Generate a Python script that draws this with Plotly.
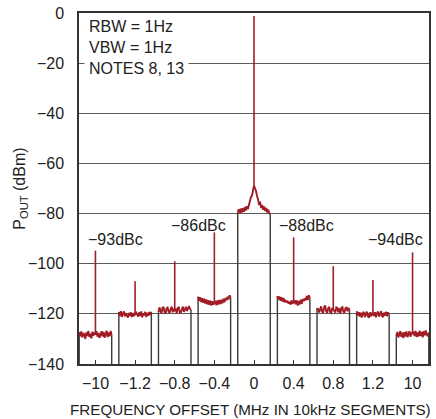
import numpy as np
import plotly.graph_objects as go

# ---- data ----
tick_labels = ["\u221210", "\u22121.2", "\u22120.8", "\u22120.4", "0", "0.4", "0.8", "1.2", "10"]

noise_m10 = [-127.2,-128.9,-127.0,-129.4,-127.6,-128.3,-130.0,-127.4,-128.8,-126.8,-129.2,-127.9,-129.8,-127.1,-128.7,-127.5,-128.2,-126.9,-129.1,-127.6,-129.6,-128.0,-126.9,-129.0,-127.2,-129.5,-127.8,-126.7,-129.3,-127.4,-128.9,-126.8,-128.6]
noise_m1p2 = [-119.3,-120.9,-118.9,-121.2,-119.8,-119.0,-121.0,-119.7,-120.6,-121.5,-119.6,-120.8,-119.4,-121.3,-119.7,-120.9,-120.1,-119.5,-120.2,-121.1,-119.4,-120.8,-119.0,-121.4,-119.9,-120.6,-119.2,-121.3,-119.6,-120.7,-119.3,-120.4,-119.2]
noise_m0p8 = [-119.3,-117.4,-118.9,-119.8,-117.6,-117.2,-119.3,-119.9,-117.8,-117.5,-119.2,-119.6,-118.0,-117.1,-119.4,-118.0,-118.6,-117.9,-119.8,-117.6,-117.4,-119.4,-119.5,-117.8,-117.1,-119.2,-117.7,-117.2,-118.9,-117.4,-116.9,-118.0,-118.4]
noise_m0p4 = [-113.2,-114.9,-113.4,-115.3,-113.8,-115.6,-114.0,-115.9,-114.3,-116.2,-114.6,-116.4,-114.8,-116.7,-115.0,-116.3,-115.6,-114.9,-116.6,-114.7,-116.3,-114.5,-116.1,-114.4,-115.8,-114.0,-115.4,-113.7,-114.6,-113.2,-114.2,-112.6,-113.6]
noise_0 = [-79.2,-78.3,-80.1,-78.0,-79.6,-77.9,-79.3,-77.4,-78.8,-77.1,-78.2,-76.5,-76.0,-73.4,-72.9,-70.4,-68.8,-69.9,-71.0,-73.1,-74.3,-76.6,-75.2,-77.8,-76.6,-78.5,-77.2,-79.0,-77.8,-79.6,-78.4,-79.9,-80.3]
noise_p0p4 = [-112.9,-114.3,-113.1,-114.8,-113.4,-115.1,-113.7,-115.4,-114.7,-115.2,-115.0,-115.9,-115.2,-116.3,-114.6,-116.0,-115.3,-114.7,-116.2,-114.6,-116.7,-114.9,-116.3,-114.4,-116.0,-114.1,-114.9,-113.8,-114.6,-112.9,-114.5,-112.6,-113.8]
noise_p0p8 = [-117.7,-118.2,-119.4,-117.6,-117.0,-119.1,-119.6,-117.5,-116.6,-118.9,-119.5,-117.9,-117.2,-119.4,-119.7,-117.6,-118.4,-119.2,-119.5,-117.4,-117.6,-119.4,-117.8,-119.9,-117.6,-117.3,-119.1,-119.4,-117.7,-117.5,-119.0,-117.6,-118.9]
noise_p1p2 = [-119.0,-120.7,-119.3,-121.1,-119.5,-121.5,-119.8,-119.2,-121.3,-119.6,-119.1,-120.9,-121.6,-119.4,-121.0,-119.6,-120.2,-120.8,-119.3,-121.4,-119.7,-119.1,-121.1,-119.6,-118.9,-120.9,-121.3,-119.5,-120.7,-119.2,-121.0,-119.4,-120.3]
noise_p10 = [-128.9,-127.2,-129.4,-127.6,-126.9,-129.2,-127.5,-129.7,-127.3,-129.0,-127.0,-129.3,-127.7,-126.9,-129.1,-127.4,-128.0,-127.1,-128.8,-126.8,-129.2,-127.4,-129.0,-126.7,-128.8,-127.2,-129.4,-126.9,-128.6,-126.6,-128.3,-128.9,-127.4]

spur_dbm = [-94.8, -107.0, -99.0, -87.5, -1.2, -89.5, -101.0, -106.5, -95.5]

dbc_labels = ["\u221293dBc", "\u221286dBc", "\u221288dBc", "\u221294dBc"]
dbc_label_seg = [0.5, 2.6, 5.33, 7.56]
dbc_label_y = [-90.5, -84.6, -84.6, -90.5]

segments = [noise_m10, noise_m1p2, noise_m0p8, noise_m0p4, noise_0,
            noise_p0p4, noise_p0p8, noise_p1p2, noise_p10]

# ---- styling ----
RED = "#a21c26"
BOX = "#3a3a3a"
GRID = "#5a5a5a"
FONT = "Liberation Sans, Arial, sans-serif"
HALF = 0.41

fig = go.Figure()

# segment box edges (gray verticals from floor to trace level)
bx, by = [], []
for i, seg in enumerate(segments):
    bx += [i - HALF, i - HALF, None, i + HALF, i + HALF, None]
    by += [-140, seg[0], None, seg[-1], -140, None]
fig.add_trace(go.Scatter(x=bx, y=by, mode="lines",
                         line=dict(color=BOX, width=1.4), hoverinfo="skip"))

# noise traces
for i, seg in enumerate(segments):
    xs = np.linspace(i - HALF, i + HALF, len(seg))
    fig.add_trace(go.Scatter(x=xs, y=seg, mode="lines",
                             line=dict(color=RED, width=1.9), hoverinfo="skip"))

# spurs / carrier
sx, sy = [], []
for i, seg in enumerate(segments):
    mid = len(seg) // 2
    sx += [i, i, None]
    sy += [seg[mid], spur_dbm[i], None]
fig.add_trace(go.Scatter(x=sx, y=sy, mode="lines",
                         line=dict(color=RED, width=1.6), hoverinfo="skip"))

annotations = []
for t, xs_, ys_ in zip(dbc_labels, dbc_label_seg, dbc_label_y):
    annotations.append(dict(x=xs_, y=ys_, xref="x", yref="y", text=t,
                            showarrow=False, font=dict(size=16, color="#222", family=FONT)))
annotations.append(dict(x=0.0142, y=1.0, xref="paper", yref="paper",
                        xanchor="left", yanchor="top", align="left",
                        text="RBW = 1Hz<br>VBW = 1Hz<br>NOTES 8, 13",
                        showarrow=False, bgcolor="white", borderpad=4,
                        font=dict(size=16, color="#222", family=FONT)))
# y-axis title as rotated annotation
annotations.append(dict(x=-0.168, y=0.5, xref="paper", yref="paper",
                        xanchor="center", yanchor="middle", textangle=-90,
                        text="P<sub>OUT</sub> (dBm)", showarrow=False,
                        font=dict(size=16, color="#222", family=FONT)))
# x-axis title as annotation (centred as in the reference)
annotations.append(dict(x=0.4886, y=-0.131, xref="paper", yref="paper",
                        xanchor="center", yanchor="middle",
                        text="FREQUENCY OFFSET (MHz IN 10kHz SEGMENTS)", showarrow=False,
                        font=dict(size=15.2, color="#222", family=FONT)))

fig.update_layout(
    width=436, height=419,
    margin=dict(l=79, r=5, t=13, b=55),
    paper_bgcolor="white", plot_bgcolor="white",
    showlegend=False,
    font=dict(family=FONT, size=16, color="#222"),
    annotations=annotations,
    xaxis=dict(range=[-0.415, 8.415], tickmode="array",
               tickvals=list(range(len(tick_labels))), ticktext=tick_labels,
               showgrid=False, zeroline=False,
               ticks="inside", ticklen=4, tickwidth=1.2, tickcolor="#333",
               showline=True, mirror=True, linecolor="#333", linewidth=1.5,
               ticklabelstandoff=4),
    yaxis=dict(range=[-140, 0], dtick=20, showgrid=True, gridcolor=GRID,
               gridwidth=1.2, zeroline=False,
               showline=True, mirror=True, linecolor="#333", linewidth=1.5,
               ticks="", ticklabelstandoff=10),
)

fig.write_html("out.html", config={"displayModeBar": False},
               post_script="document.body.style.margin='0';document.body.style.padding='0';")
